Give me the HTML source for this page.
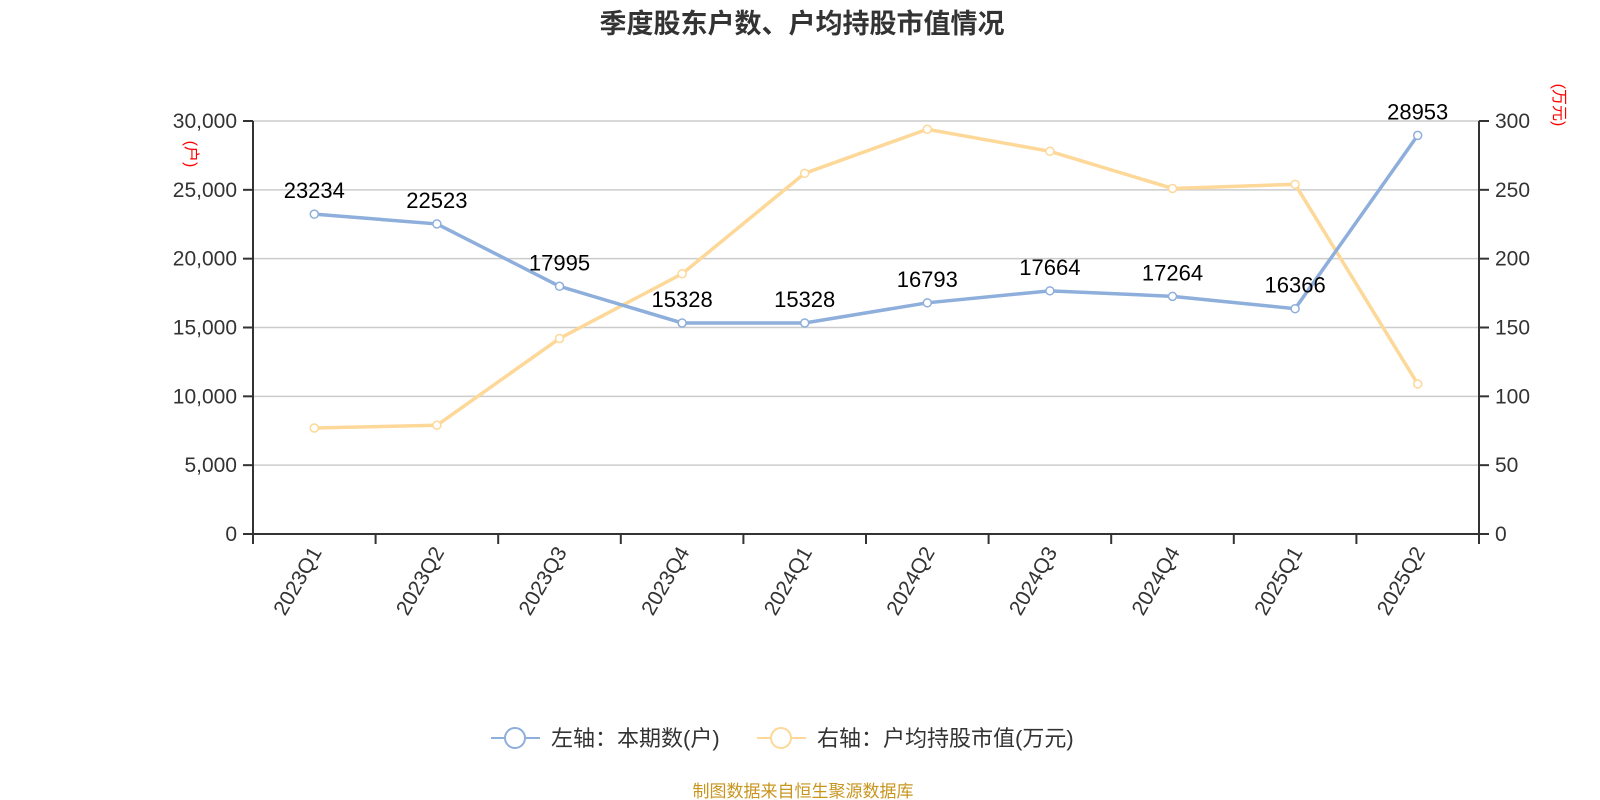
<!DOCTYPE html>
<html><head><meta charset="utf-8"><style>
html,body{margin:0;padding:0;background:#fff;}
svg{display:block;font-family:"Liberation Sans","Noto Sans CJK SC",sans-serif;}
</style></head><body>
<svg id="chart" width="1600" height="800" viewBox="0 0 1600 800">
<text x="802" y="33" text-anchor="middle" font-size="27" font-weight="bold" fill="#333">季度股东户数、户均持股市值情况</text>
<g id="grid"></g><g id="axes"></g><g id="series"></g>
<text transform="translate(186,154) rotate(90)" text-anchor="middle" font-size="16" fill="#f00">(户)</text>
<text transform="translate(1554,105) rotate(90)" text-anchor="middle" font-size="16" fill="#f00">(万元)</text>
<g>
<g>
<line x1="491" y1="738" x2="540" y2="738" stroke="#8eaedb" stroke-width="2"/>
<circle cx="515" cy="738" r="10" fill="#fff" stroke="#8eaedb" stroke-width="2"/>
<text x="551" y="746" font-size="22" fill="#333">左轴：本期数(户)</text></g>
<g>
<line x1="757" y1="738" x2="806" y2="738" stroke="#fdd898" stroke-width="2"/>
<circle cx="781" cy="738" r="10" fill="#fff" stroke="#fdd898" stroke-width="2"/>
<text x="817" y="746" font-size="22" fill="#333">右轴：户均持股市值(万元)</text></g>
</g>
<text x="803" y="797" text-anchor="middle" font-size="17" fill="#c8961e">制图数据来自恒生聚源数据库</text>
</svg>
<script>
const categories=["2023Q1","2023Q2","2023Q3","2023Q4","2024Q1","2024Q2","2024Q3","2024Q4","2025Q1","2025Q2"];
const households=[23234,22523,17995,15328,15328,16793,17664,17264,16366,28953];
const avgValue=[77,79,142,189,262,294,278,251,254,109];
const leftTicks=[0,5000,10000,15000,20000,25000,30000];
const rightTicks=[0,50,100,150,200,250,300];
const NS="http://www.w3.org/2000/svg";
const L=253,R=1479,T=121,B=534;
const bw=(R-L)/categories.length;
const xs=i=>L+bw*(i+0.5);
const yl=v=>B-(v/30000)*(B-T);
const yr=v=>B-(v/300)*(B-T);
function mk(tag,attrs,parent){const e=document.createElementNS(NS,tag);for(const k in attrs)e.setAttribute(k,attrs[k]);parent.appendChild(e);return e;}
const grid=document.getElementById('grid'),axes=document.getElementById('axes'),series=document.getElementById('series');
leftTicks.forEach((t,i)=>{
 const y=yl(t);
 if(t>0){const g=mk('line',{x1:L,x2:R,y1:y,y2:y,stroke:'#ccc','stroke-width':1.5},grid);
 
 }
 mk('line',{x1:L-10,x2:L,y1:y,y2:y,stroke:'#333','stroke-width':2},axes);
 const tx=mk('text',{x:L-16,y:y+7,'text-anchor':'end','font-size':21,fill:'#333'},axes);
 tx.textContent=t.toLocaleString('en-US');
 
 
});
rightTicks.forEach(t=>{
 const y=yr(t);
 mk('line',{x1:R,x2:R+10,y1:y,y2:y,stroke:'#333','stroke-width':2},axes);
 const tx=mk('text',{x:R+16,y:y+7,'font-size':21,fill:'#333'},axes);
 tx.textContent=t;
 
 
});
mk('line',{x1:L,x2:L,y1:T,y2:B,stroke:'#333','stroke-width':2},axes);
mk('line',{x1:R,x2:R,y1:T,y2:B,stroke:'#333','stroke-width':2},axes);
mk('line',{x1:L,x2:R,y1:B,y2:B,stroke:'#333','stroke-width':2},axes);
for(let i=0;i<=categories.length;i++){mk('line',{x1:L+bw*i,x2:L+bw*i,y1:B,y2:B+10,stroke:'#333','stroke-width':2},axes);}
categories.forEach((c,i)=>{
 const x=xs(i);
 const tx=mk('text',{transform:`translate(${x+8},${B+18}) rotate(-60)`,'text-anchor':'end','font-size':21,fill:'#333'},axes);
 tx.textContent=c;
 
 
});
function drawLine(vals,yf,color,name,labels){
 const p=mk('polyline',{points:vals.map((v,i)=>xs(i)+','+yf(v)).join(' '),fill:'none',stroke:color,'stroke-width':3.5},series);
 
 
 vals.forEach((v,i)=>{
  const c=mk('circle',{cx:xs(i),cy:yf(v),r:4,fill:'#fff',stroke:color,'stroke-width':1.5},series);
  
  
  if(labels){
   const t=mk('text',{x:xs(i),y:yf(v)-16,'text-anchor':'middle','font-size':22,fill:'#000'},series);
   t.textContent=v;
   
   
  }
 });
}
drawLine(avgValue,yr,'#fdd898','avg-value',false);
drawLine(households,yl,'#8eaedb','households',true);
</script>
</body></html>
